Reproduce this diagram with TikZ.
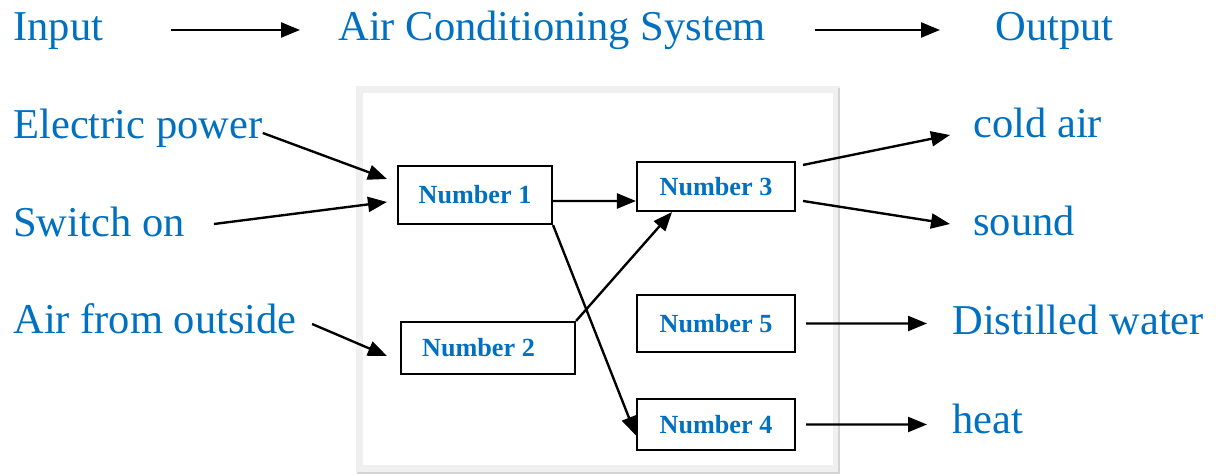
\documentclass[tikz,border=0pt]{standalone}
\usepackage{fontspec}
\setmainfont{Liberation Serif}
\usepackage{xcolor}
\usetikzlibrary{arrows.meta}
\definecolor{textblue}{HTML}{0070C0}
\definecolor{framegray}{HTML}{F0F0F0}
\definecolor{shadegray}{HTML}{D4D4D4}
\tikzstyle{term}=[inner sep=0pt,text=textblue,font=\fontsize{24.2pt}{28pt}\selectfont]
\tikzstyle{numbox}=[rectangle,draw=black,line width=1.2pt,fill=white,inner sep=0pt,text=textblue,font=\fontsize{14.9pt}{17pt}\selectfont\bfseries]
\tikzstyle{flow}=[line width=1.35pt,-{Triangle[length=0.38cm,width=0.3cm]}]

\begin{document}
\begin{tikzpicture}[x=0.02cm,y=-0.02cm]
        \useasboundingbox (0,0) rectangle (1216,475);

        % system frame
        \draw [framegray,line width=0.14cm] (359,90) rectangle (836,469);
        \draw [shadegray,line width=0.04cm] (839,88) -- (839,473) -- (357,473);

        % header
        \node at (13,41)  [term,anchor=base west] (in)  {Input};
        \node at (338,41) [term,anchor=base west] (acs) {Air Conditioning System};
        \node at (995,41) [term,anchor=base west] (out) {Output};

        % inputs
        \node at (13,139) [term,anchor=base west] (ep) {Electric power};
        \node at (13,237) [term,anchor=base west] (sw) {Switch on};
        \node at (13,334) [term,anchor=base west] (af) {Air from outside};

        % outputs
        \node at (973,138) [term,anchor=base west] (ca) {cold air};
        \node at (973,236) [term,anchor=base west] (sd) {sound};
        \node at (952,335) [term,anchor=base west] (dw) {Distilled water};
        \node at (952,434) [term,anchor=base west] (ht) {heat};

        % parts
        \node at (475,195)   [numbox,minimum width=3.08cm,minimum height=1.16cm] (n1) {Number 1};
        \node at (488,348)   [numbox,minimum width=3.48cm,minimum height=1.04cm] (n2) {Number 2\kern0.38cm};
        \node at (716,186.5) [numbox,minimum width=3.16cm,minimum height=0.98cm] (n3) {Number 3};
        \node at (716,424.5) [numbox,minimum width=3.16cm,minimum height=1.02cm] (n4) {Number 4};
        \node at (716,323.5) [numbox,minimum width=3.16cm,minimum height=1.14cm] (n5) {Number 5};

        \draw [flow] ([shift={(68,-11)}]in.base east) -- ([shift={(-38,-11)}]acs.base west);
        \draw [flow] ([shift={(49,-11)}]acs.base east) -- ([shift={(-55,-11)}]out.base west);

        \draw [flow] ([shift={(0,-6)}]ep.base east) -- ([shift={(-10,-16)}]n1.west);
        \draw [flow] ([shift={(29,-13)}]sw.base east) -- ([shift={(-10,7)}]n1.west);
        \draw [flow] ([shift={(15,-10)}]af.base east) -- ([shift={(-13,8)}]n2.west);

        \draw [flow] ([shift={(0,6)}]n1.east) -- ([shift={(0,14.5)}]n3.west);
        \draw [flow] (n2.north east) -- ([shift={(-44,0)}]n3.south);
        \draw [flow] (n1.south east) -- ([shift={(0,11)}]n4.west);

        \draw [flow] ([shift={(7,4)}]n3.north east) -- ([shift={(-23,-3)}]ca.base west);
        \draw [flow] ([shift={(7,14.5)}]n3.east) -- ([shift={(-23,-12)}]sd.base west);
        \draw [flow] ([shift={(10,0)}]n5.east) -- ([shift={(-25,-11.5)}]dw.base west);
        \draw [flow] ([shift={(10,0)}]n4.east) -- ([shift={(-25,-9.5)}]ht.base west);
      \end{tikzpicture}
\end{document}
